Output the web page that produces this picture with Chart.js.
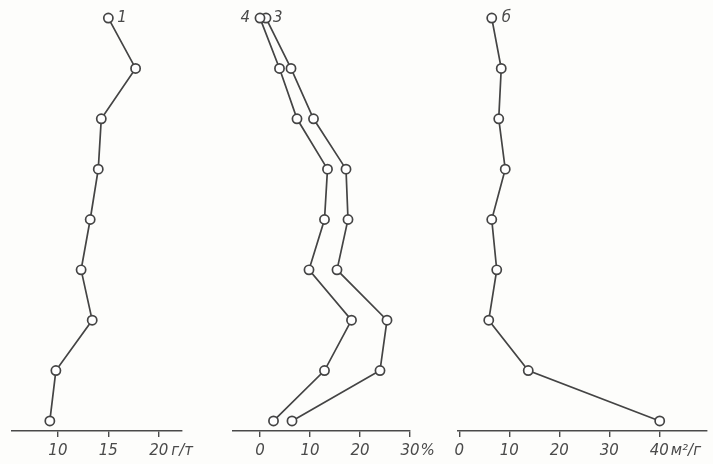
<!DOCTYPE html>
<html><head><meta charset="utf-8">
<script src="https://cdn.jsdelivr.net/npm/chart.js@4.4.1/dist/chart.umd.min.js"></script>
<style>
html,body{margin:0;padding:0;background:#fdfdfb;}
#wrap{position:relative;width:713px;height:464px;}
canvas{position:absolute;left:0;top:0;}
</style></head><body>
<div id="wrap">
<canvas id="c1" width="713" height="464"></canvas>
<canvas id="c2" width="713" height="464"></canvas>
<canvas id="c3" width="713" height="464"></canvas>
</div>
<script>
// depth levels (top to bottom)
const levels  = [1, 2, 3, 4, 5, 6, 7, 8, 9];
// panel 1 (г/т)
const series1 = [15.0, 17.7, 14.3, 14.0, 13.2, 12.3, 13.4, 9.8, 9.2];
// panel 2 (%)
const series3 = [1.2, 6.2, 10.7, 17.2, 17.6, 15.4, 25.4, 24.0, 6.4];
const series4 = [0.0, 3.9, 7.4, 13.5, 12.9, 9.8, 18.3, 12.9, 2.7];
// panel 3 (м²/г)
const series6 = [6.5, 8.4, 7.9, 9.2, 6.5, 7.5, 5.9, 13.8, 40.1];
// tick labels
const ticks1 = [10, 15, 20];
const ticks2 = [0, 10, 20, 30];
const ticks3 = [0, 10, 20, 30, 40];
const unit1 = 'г/т', unit2 = '%', unit3 = 'м²/г';
const name1 = '1', name3 = '3', name4 = '4', name6 = 'б';

const INK = '#444444';
const FONT = {family: 'DejaVu Sans', size: 15, style: 'italic'};
const fontStr = 'italic 15px "DejaVu Sans"';

const textPlugin = {
  id: 'marks',
  afterDraw(chart, args, opts) {
    const ctx = chart.ctx;
    ctx.save();
    ctx.font = fontStr;
    ctx.fillStyle = '#4a4a4a';
    ctx.textBaseline = 'middle';
    (opts.labels || []).forEach(l => {
      const el = chart.getDatasetMeta(l.ds).data[0];
      ctx.textAlign = l.align;
      ctx.fillText(l.text, el.x + l.dx, el.y);
    });
    if (opts.unit) {
      const sc = chart.scales.x;
      const last = opts.unit.tick;
      const px = sc.getPixelForValue(last);
      const w = ctx.measureText(String(last)).width;
      ctx.textAlign = 'left';
      ctx.fillText(opts.unit.text, px + w / 2 + opts.unit.gap, chart.chartArea.bottom + 20.5);
    }
    ctx.restore();
  }
};

function ds(vals) {
  return {
    data: levels.map((d, i) => ({x: vals[i], y: d})),
    showLine: true,
    borderColor: INK,
    borderWidth: 1.7,
    pointRadius: 4.6,
    pointBorderWidth: 1.7,
    pointBorderColor: INK,
    pointBackgroundColor: '#ffffff',
    tension: 0,
    clip: false
  };
}

function makeChart(id, datasets, min, max, ticks, padL, padR, marks) {
  new Chart(document.getElementById(id), {
    type: 'scatter',
    data: {datasets},
    plugins: [textPlugin],
    options: {
      responsive: false,
      animation: false,
      devicePixelRatio: 1,
      layout: {padding: {left: padL, right: padR, top: 8, bottom: 0}},
      plugins: {legend: {display: false}, tooltip: {enabled: false}, marks},
      scales: {
        x: {
          type: 'linear', min, max,
          afterBuildTicks: s => { s.ticks = ticks.map(v => ({value: v})); },
          afterFit: s => { s.height = 33; },
          ticks: {font: FONT, color: '#4a4a4a', padding: 5, maxRotation: 0, autoSkip: false},
          grid: {drawOnChartArea: false, drawTicks: true, tickLength: 6, color: '#4a4a4a', lineWidth: 1.4},
          border: {display: true, color: '#4a4a4a', width: 1.6}
        },
        y: {type: 'linear', reverse: true, min: 0.8, max: 9.2, display: false}
      }
    }
  });
}

makeChart('c1', [ds(series1)], 5.45, 22.3, ticks1, 12, 713 - 182,
  {labels: [{ds: 0, text: name1, dx: 9, align: 'left'}], unit: {text: unit1, tick: 20, gap: 3}});
makeChart('c2', [ds(series4), ds(series3)], -5.4, 30, ticks2, 233, 713 - 410,
  {labels: [{ds: 0, text: name4, dx: -10, align: 'right'}, {ds: 1, text: name3, dx: 7, align: 'left'}], unit: {text: unit2, tick: 30, gap: 1}});
makeChart('c3', [ds(series6)], -0.25, 49.5, ticks3, 458, 3,
  {labels: [{ds: 0, text: name6, dx: 10, align: 'left'}], unit: {text: unit3, tick: 40, gap: 2}});
</script>
</body></html>
